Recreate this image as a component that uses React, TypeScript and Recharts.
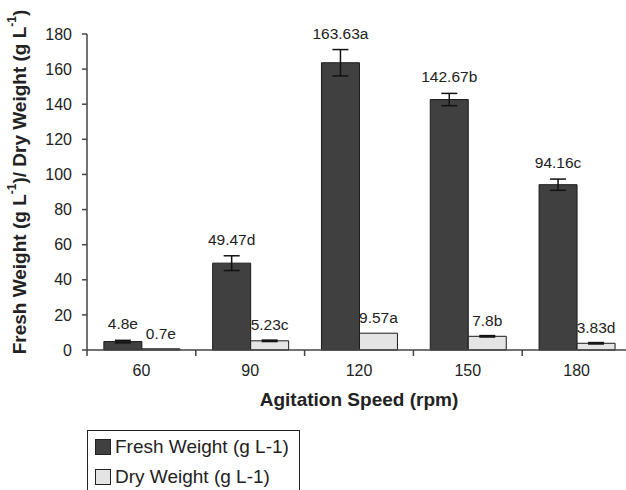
import { Bar, BarChart, ErrorBar, LabelList, XAxis, YAxis } from "recharts";

const categories = ["60", "90", "120", "150", "180"];
const freshWeight = [4.8, 49.47, 163.63, 142.67, 94.16];
const dryWeight = [0.7, 5.23, 9.57, 7.8, 3.83];
const freshError = [0.7, 4.2, 7.5, 3.5, 3.2];
const dryError = [0, 0.4, 0, 0.4, 0.4];
const freshLetters = ["e", "d", "a", "b", "c"];
const dryLetters = ["e", "c", "a", "b", "d"];
const yTicks = [0, 20, 40, 60, 80, 100, 120, 140, 160, 180];

const data = categories.map((speed, i) => ({
  speed,
  fresh: freshWeight[i],
  dry: dryWeight[i],
  freshErr: freshError[i],
  dryErr: dryError[i],
}));

const FONT = '"Liberation Sans", Arial, sans-serif';
const INK = "#222";

const makeLabel =
  (values: number[], errors: number[], letters: string[], gap: number) =>
  (props: any) => {
    const { x, y, width, height, index } = props;
    const pxPerUnit = Number(height) / values[index];
    const top = Number(y) - errors[index] * pxPerUnit;
    return (
      <text
        x={Number(x) + Number(width) / 2}
        y={top - gap + 5}
        textAnchor="middle"
        fontSize={15.5}
        fontFamily={FONT}
        fill={INK}
      >
        {`${values[index]}${letters[index]}`}
      </text>
    );
  };

const SpeedTick = (props: any) => {
  const { x, y, payload } = props;
  const half = payload.offset ?? 0;
  return (
    <g>
      <line x1={x - half} x2={x - half} y1={y} y2={y + 6} stroke="#444" strokeWidth={1.5} />
      <text x={x} y={y + 26} textAnchor="middle" fontSize={16} fontFamily={FONT} fill={INK}>
        {payload.value}
      </text>
    </g>
  );
};

const YLabel = (props: any) => {
  const { viewBox } = props;
  const cx = viewBox.x - 8;
  const cy = viewBox.y + viewBox.height / 2 - 10;
  return (
    <text
      x={cx}
      y={cy}
      transform={`rotate(-90, ${cx}, ${cy})`}
      textAnchor="middle"
      dominantBaseline="central"
      fontSize={19}
      fontWeight="bold"
      fontFamily={FONT}
      fill={INK}
    >
      Fresh Weight (g L
      <tspan fontSize={12} dy={-7}>-1</tspan>
      <tspan dy={7}>)/ Dry Weight (g L</tspan>
      <tspan fontSize={12} dy={-7}>-1</tspan>
      <tspan dy={7}>)</tspan>
    </text>
  );
};

const XLabel = (props: any) => {
  const { viewBox } = props;
  return (
    <text
      x={viewBox.x + viewBox.width / 2}
      y={viewBox.y + 56}
      textAnchor="middle"
      fontSize={19}
      fontWeight="bold"
      fontFamily={FONT}
      fill={INK}
    >
      Agitation Speed (rpm)
    </text>
  );
};

const legendItems = [
  { name: "Fresh Weight (g L-1)", color: "#404040" },
  { name: "Dry Weight (g L-1)", color: "#e4e4e4" },
];

export default function App() {
  return (
    <div
      style={{
        position: "absolute",
        left: 0,
        top: 0,
        width: 626,
        height: 490,
        overflow: "hidden",
        background: "#fff",
      }}
    >
      <BarChart
        width={640}
        height={490}
        data={data}
        margin={{ top: 34, right: 9, left: 27, bottom: 110 }}
        barCategoryGap="15.5%"
        barGap={0}
      >
        <XAxis
          dataKey="speed"
          height={30}
          tickLine={false}
          tickSize={0}
          tickMargin={0}
          tick={<SpeedTick />}
          axisLine={{ stroke: "#444", strokeWidth: 1.5 }}
          label={<XLabel />}
        />
        <YAxis
          width={60}
          domain={[0, 180]}
          ticks={yTicks}
          interval={0}
          tickSize={5}
          tickMargin={10}
          tickLine={{ stroke: "#444", strokeWidth: 1.5 }}
          axisLine={{ stroke: "#444", strokeWidth: 1.5 }}
          tick={{ fontSize: 16, fontFamily: FONT, fill: INK }}
          label={<YLabel />}
        />
        <Bar dataKey="fresh" fill="#404040" stroke="#1a1a1a" strokeWidth={1} isAnimationActive={false}>
          <ErrorBar dataKey="freshErr" width={8} stroke="#111" strokeWidth={1.5} direction="y" />
          <LabelList content={makeLabel(freshWeight, freshError, freshLetters, 16)} />
        </Bar>
        <Bar dataKey="dry" fill="#e4e4e4" stroke="#1a1a1a" strokeWidth={1} isAnimationActive={false}>
          <ErrorBar dataKey="dryErr" width={8} stroke="#111" strokeWidth={1.5} direction="y" />
          <LabelList content={makeLabel(dryWeight, dryError, dryLetters, 15)} />
        </Bar>
      </BarChart>
      <div
        style={{
          position: "absolute",
          left: 87,
          top: 430,
          width: 213,
          height: 80,
          border: "1.5px solid #222",
          boxSizing: "border-box",
          fontFamily: FONT,
          fontSize: 19,
          color: INK,
          paddingTop: 1,
        }}
      >
        {legendItems.map((item) => (
          <div key={item.name} style={{ display: "flex", alignItems: "center", height: 30 }}>
            <span
              style={{
                display: "inline-block",
                width: 16,
                height: 16,
                marginLeft: 7,
                marginRight: 4,
                background: item.color,
                border: "1px solid #222",
                boxSizing: "border-box",
              }}
            />
            {item.name}
          </div>
        ))}
      </div>
    </div>
  );
}
